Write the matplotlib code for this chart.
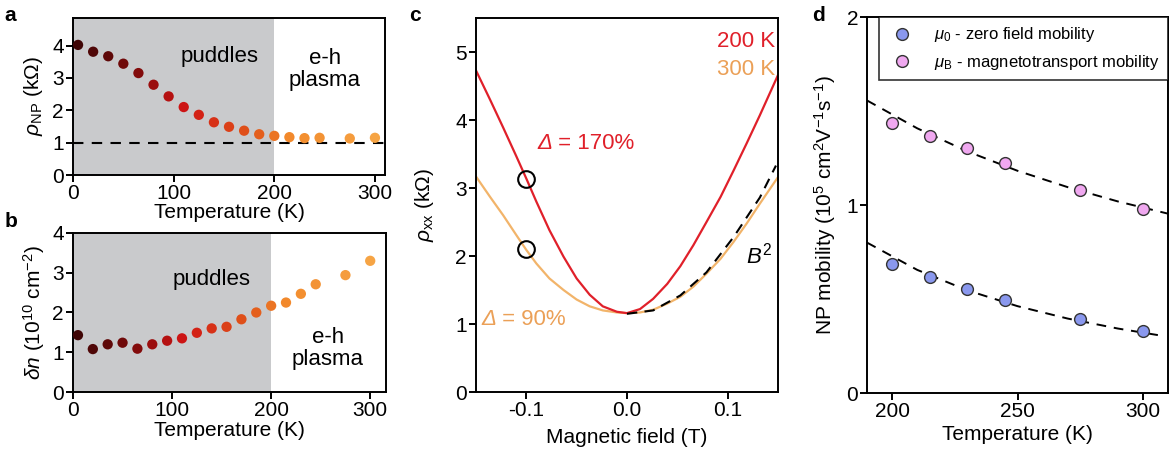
import numpy as np
import matplotlib
matplotlib.use("Agg")
import matplotlib.pyplot as plt
from matplotlib.colors import LinearSegmentedColormap

plt.rcParams['font.family'] = ['Liberation Sans', 'DejaVu Sans']
plt.rcParams['mathtext.fontset'] = 'custom'
plt.rcParams['mathtext.rm'] = 'Liberation Sans'
plt.rcParams['mathtext.it'] = 'Liberation Sans:italic'
plt.rcParams['mathtext.bf'] = 'Liberation Sans:bold'

# ---- data ----
temps = [5, 20, 35, 50, 65, 80, 95, 110, 125, 140, 155, 170, 185, 200, 215, 230, 245, 275, 300]
rho_np = [4.02, 3.81, 3.67, 3.44, 3.15, 2.79, 2.43, 2.10, 1.86, 1.63, 1.49, 1.37, 1.26,
          1.21, 1.17, 1.14, 1.15, 1.13, 1.15]
delta_n = [1.43, 1.08, 1.20, 1.24, 1.09, 1.20, 1.29, 1.35, 1.49, 1.60, 1.64, 1.83, 2.00,
           2.17, 2.25, 2.47, 2.71, 2.94, 3.30]

field = [-0.150, -0.136, -0.123, -0.110, -0.100, -0.090, -0.077, -0.063, -0.050, -0.037,
         -0.024, -0.010, 0.000, 0.013, 0.026, 0.040, 0.053, 0.066, 0.079, 0.093,
         0.106, 0.119, 0.132, 0.150]
rho_200 = [4.73, 4.30, 3.89, 3.47, 3.14, 2.80, 2.38, 1.99, 1.67, 1.43, 1.26, 1.18, 1.16,
           1.22, 1.37, 1.59, 1.85, 2.16, 2.50, 2.87, 3.26, 3.66, 4.07, 4.66]
rho_300 = [3.17, 2.87, 2.60, 2.31, 2.09, 1.89, 1.67, 1.50, 1.36, 1.26, 1.20, 1.17, 1.16,
           1.17, 1.21, 1.30, 1.40, 1.55, 1.74, 1.96, 2.21, 2.48, 2.77, 3.16]
b2_field = [0.000, 0.026, 0.053, 0.079, 0.106, 0.132, 0.148]
b2_rho = [1.15, 1.20, 1.42, 1.76, 2.28, 2.86, 3.33]
circle_field = [-0.1, -0.1]
circle_rho = [3.13, 2.10]

mob_T = [200, 215, 230, 245, 275, 300]
mu_0 = [0.688, 0.617, 0.553, 0.496, 0.395, 0.328]
mu_B = [1.436, 1.365, 1.303, 1.225, 1.078, 0.979]
fit_T0 = [190, 210, 230, 250, 270, 290, 306]
fit_mu0 = [0.80, 0.655, 0.546, 0.462, 0.396, 0.343, 0.308]
fit_TB = [190, 210, 230, 250, 270, 290, 310]
fit_muB = [1.556, 1.408, 1.285, 1.182, 1.095, 1.019, 0.954]

# colour ramp for the temperature points
tcmap = LinearSegmentedColormap.from_list(
    'temp', [(0.0, '#3a0505'), (0.2, '#7a0a0a'), (0.37, '#cf1414'),
             (0.6, '#e2581a'), (0.72, '#f28a2c'), (1.0, '#f6a444')])
pt_colors = tcmap(np.array(temps) / 300.0)

FS = 15
TXT = 16
fig = plt.figure(figsize=(11.72, 4.57), dpi=100)

def style(ax):
    for s in ax.spines.values():
        s.set_linewidth(1.4)
    ax.tick_params(direction='out', length=5, width=1.4, labelsize=FS, pad=1.5)

def delta_label(ax, x, y, rest, color):
    # italic capital delta followed by upright text
    d = ax.text(x, y, '\u0394', color=color, fontsize=TXT, style='italic',
                ha='left', va='center')
    ax.annotate(rest, xy=(1, 0.5), xycoords=d, color=color, fontsize=TXT,
                ha='left', va='center')

# ---- panel a ----
ax = fig.add_axes([0.0623, 0.617, 0.2662, 0.3435])
ax.axvspan(0, 200, color='#c9cacc', lw=0, zorder=0)
ax.axhline(1, color='black', lw=1.5, ls=(0, (5, 4)), zorder=1)
ax.scatter(temps, rho_np, s=55, c=pt_colors, edgecolors='none', zorder=3)
ax.set_xlim(0, 310)
ax.set_ylim(0, 4.85)
ax.set_xticks([0, 100, 200, 300])
ax.set_yticks([0, 1, 2, 3, 4])
ax.set_xlabel('Temperature (K)', fontsize=FS, labelpad=0)
ax.set_ylabel(r'$\it{\rho}_{\rm NP}$ (k$\Omega$)', fontsize=FS, labelpad=5)
ax.text(146, 3.65, 'puddles', fontsize=TXT, ha='center', va='center')
ax.text(250, 3.25, 'e-h\nplasma', fontsize=TXT, ha='center', va='center', linespacing=1.05)
style(ax)
fig.text(0.004, 0.965, 'a', fontsize=15, fontweight='bold', va='center')

# ---- panel b ----
ax = fig.add_axes([0.0623, 0.1422, 0.2671, 0.348])
ax.axvspan(0, 200, color='#c9cacc', lw=0, zorder=0)
ax.scatter(temps, delta_n, s=55, c=pt_colors, edgecolors='none', zorder=3)
ax.set_xlim(0, 316)
ax.set_ylim(0, 4)
ax.set_xticks([0, 100, 200, 300])
ax.set_yticks([0, 1, 2, 3, 4])
ax.set_xlabel('Temperature (K)', fontsize=FS, labelpad=1)
ax.set_ylabel(r'$\delta\it{n}$ (10$^{10}$ cm$^{-2}$)', fontsize=FS, labelpad=4)
ax.text(140, 2.82, 'puddles', fontsize=TXT, ha='center', va='center')
ax.text(257, 1.1, 'e-h\nplasma', fontsize=TXT, ha='center', va='center', linespacing=1.05)
style(ax)
fig.text(0.004, 0.515, 'b', fontsize=15, fontweight='bold', va='center')

# ---- panel c ----
ax = fig.add_axes([0.4061, 0.1422, 0.2577, 0.8184])
red = '#e0202a'
orange = '#f2b46a'
ax.plot(field, rho_300, color=orange, lw=1.6)
ax.plot(field, rho_200, color=red, lw=1.6)
ax.plot(b2_field, b2_rho, color='black', lw=1.5, ls=(0, (5, 3.5)))
ax.plot(circle_field, circle_rho, ls='none', marker='o', ms=12, mfc='none',
        mec='black', mew=1.5)
ax.set_xlim(-0.15, 0.15)
ax.set_ylim(0, 5.5)
ax.set_xticks([-0.1, 0.0, 0.1])
ax.set_xticklabels(['-0.1', '0.0', '0.1'])
ax.set_yticks([0, 1, 2, 3, 4, 5])
ax.set_xlabel('Magnetic field (T)', fontsize=FS, labelpad=6)
ax.set_ylabel(r'$\it{\rho}_{\rm xx}$ (k$\Omega$)', fontsize=FS, labelpad=14)
ax.text(0.147, 5.15, '200 K', color=red, fontsize=TXT, ha='right', va='center')
ax.text(0.147, 4.75, '300 K', color='#eba057', fontsize=TXT, ha='right', va='center')
delta_label(ax, -0.089, 3.65, ' = 170%', red)
delta_label(ax, -0.145, 1.06, ' = 90%', '#eba057')
ax.text(0.118, 2.0, r'$\it{B}^{2}$', color='black', fontsize=TXT, ha='left', va='center')
style(ax)
fig.text(0.349, 0.965, 'c', fontsize=15, fontweight='bold', va='center')

# ---- panel d ----
ax = fig.add_axes([0.7398, 0.1400, 0.2568, 0.8228])
ax.plot(fit_TB, fit_muB, color='black', lw=1.4, ls=(0, (5, 4)), zorder=2)
ax.plot(fit_T0, fit_mu0, color='black', lw=1.4, ls=(0, (5, 4)), zorder=2)
ax.plot(mob_T, mu_0, ls='none', marker='o', ms=8.5, mfc='#8a98ee', mec='#333333',
        mew=1.0, zorder=3, label=r'$\it{\mu}_{0}$ - zero field mobility')
ax.plot(mob_T, mu_B, ls='none', marker='o', ms=8.5, mfc='#f0a8f0', mec='#333333',
        mew=1.0, zorder=3, label=r'$\it{\mu}_{\rm B}$ - magnetotransport mobility')
ax.set_xlim(190, 310)
ax.set_ylim(0, 2)
ax.set_xticks([200, 250, 300])
ax.set_yticks([0, 1, 2])
ax.set_xlabel('Temperature (K)', fontsize=FS, labelpad=3)
ax.set_ylabel(r'NP mobility (10$^{5}$ cm$^{2}$V$^{-1}$s$^{-1}$)', fontsize=FS, labelpad=6)
leg = ax.legend(loc='upper right', bbox_to_anchor=(1.0, 1.0), borderaxespad=0,
                fontsize=12, frameon=True, fancybox=False, handletextpad=1.0,
                borderpad=0.5, labelspacing=0.5, handlelength=1.8)
leg.get_frame().set_edgecolor('black')
leg.get_frame().set_linewidth(1.2)
style(ax)
fig.text(0.693, 0.965, 'd', fontsize=15, fontweight='bold', va='center')

fig.savefig('out.png', dpi=100)
